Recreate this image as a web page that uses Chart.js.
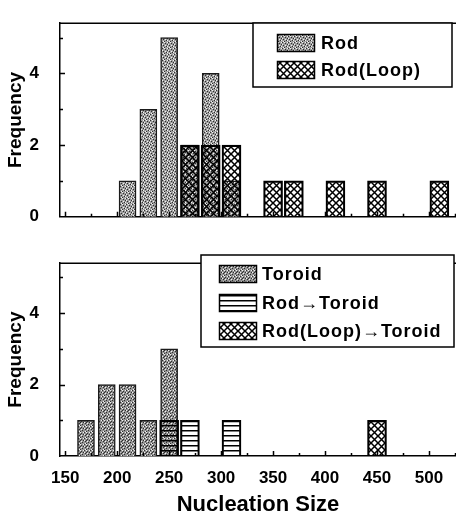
<!DOCTYPE html>
<html>
<head>
<meta charset="utf-8">
<script src="https://cdn.jsdelivr.net/npm/chart.js@4.4.0/dist/chart.umd.min.js"></script>
<style>
  html, body { margin: 0; padding: 0; background: #fff; }
  #wrap { position: relative; width: 456px; height: 514px; }
  canvas { position: absolute; left: 0; }
  #top { top: 0; }
  #bottom { top: 240px; }
</style>
</head>
<body>
<div id="wrap">
  <canvas id="top" width="456" height="240"></canvas>
  <canvas id="bottom" width="456" height="274"></canvas>
</div>
<script>
'use strict';

// bin centres (nucleation size) and counts
const rodBins = [210, 230, 250, 270, 290, 310];
const rodCounts = [1, 3, 5, 2, 4, 1];
const rodLoopBins = [270, 290, 310, 350, 370, 410, 450, 510];
const rodLoopCounts = [2, 2, 2, 1, 1, 1, 1, 1];

const toroidBins = [170, 190, 210, 230, 250];
const toroidCounts = [1, 2, 2, 1, 3];
const rodToroidBins = [250, 270, 310];
const rodToroidCounts = [1, 1, 1];
const loopToroidBins = [450];
const loopToroidCounts = [1];

const xTicks = [150, 200, 250, 300, 350, 400, 450, 500];
const yTicks = [0, 2, 4];

const FONT = '"Liberation Sans", Arial, sans-serif';

function makePattern(w, h, draw) {
    const c = document.createElement('canvas');
    c.width = w;
    c.height = h;
    const g = c.getContext('2d');
    draw(g);
    return g.createPattern(c, 'repeat');
}

// grey dithered fill
function dither(base, dark, light) {
    return makePattern(6, 6, g => {
        g.fillStyle = base;
        g.fillRect(0, 0, 6, 6);
        g.fillStyle = '#2e2e2e';
        dark.forEach(p => g.fillRect(p[0], p[1], 1, 1));
        g.fillStyle = '#f2f2f2';
        light.forEach(p => g.fillRect(p[0], p[1], 1, 1));
    });
}
const stipple = dither('#9e9e9e',
    [[0, 0], [3, 1], [5, 2], [1, 3], [4, 4], [2, 5]],
    [[2, 0], [5, 0], [0, 2], [3, 3], [1, 5], [5, 4]]);
const stippleDark = dither('#949494',
    [[0, 0], [3, 1], [5, 2], [1, 3], [4, 4], [2, 5], [2, 2]],
    [[2, 0], [5, 0], [0, 2], [3, 3], [1, 5]]);
// diagonal cross-hatch, see-through
const hatch = makePattern(7, 7, g => {
    g.strokeStyle = '#000';
    g.lineWidth = 1.5;
    g.beginPath();
    g.moveTo(-1, -1); g.lineTo(8, 8);
    g.moveTo(8, -1); g.lineTo(-1, 8);
    g.stroke();
});
// horizontal lines, see-through
const lines = makePattern(4, 5, g => {
    g.fillStyle = '#000';
    g.fillRect(0, 0, 4, 1.5);
});

function pts(xs, ys) {
    return xs.map((x, i) => ({ x: x, y: ys[i] }));
}

// border on top plus inward tick marks
const framePlugin = {
    id: 'frame',
    afterDatasetsDraw(chart) {
        const { ctx, chartArea: a, scales: { x, y } } = chart;
        ctx.save();
        ctx.strokeStyle = '#000';
        ctx.lineWidth = 1.5;
        ctx.beginPath();
        ctx.moveTo(a.left, a.top);
        ctx.lineTo(a.right, a.top);
        for (let v = 150; v <= x.max; v += 25) {
            const px = Math.round(x.getPixelForValue(v)) + 0.5;
            ctx.moveTo(px, a.bottom);
            ctx.lineTo(px, a.bottom - (v % 50 === 0 ? 5 : 3));
        }
        for (let v = 1; v <= 5; v++) {
            const py = Math.round(y.getPixelForValue(v)) + 0.5;
            ctx.moveTo(a.left, py);
            ctx.lineTo(a.left + (v % 2 === 0 ? 5 : 3), py);
        }
        ctx.stroke();
        ctx.restore();
    }
};

// boxed legend inside the plot
const boxLegend = {
    id: 'boxLegend',
    afterDraw(chart, args, opts) {
        const ctx = chart.ctx;
        const [l, t, r, b] = opts.box;
        ctx.save();
        ctx.fillStyle = '#fff';
        ctx.fillRect(l, t, r - l, b - t);
        ctx.strokeStyle = '#000';
        ctx.lineWidth = 1.5;
        ctx.strokeRect(l, t, r - l, b - t);
        ctx.font = 'bold 18px ' + FONT;
        ctx.letterSpacing = '1px';
        ctx.textBaseline = 'middle';
        chart.data.datasets.forEach((ds, i) => {
            const cy = opts.rows[i];
            const sx = opts.swatchX, sw = 38, sh = 18;
            ctx.fillStyle = '#fff';
            ctx.fillRect(sx, cy - sh / 2, sw, sh);
            ctx.fillStyle = ds.backgroundColor;
            ctx.fillRect(sx, cy - sh / 2, sw, sh);
            ctx.lineWidth = 1.5;
            ctx.strokeStyle = '#000';
            ctx.strokeRect(sx + 0.5, cy - sh / 2 + 0.5, sw - 1, sh - 1);
            ctx.fillStyle = '#000';
            ctx.fillText(ds.label, opts.textX, cy + 1);
        });
        ctx.restore();
    }
};

function options(bottom, legendOpts) {
    return {
        responsive: false,
        animation: false,
        layout: { padding: { top: bottom ? 9 : 13, left: 0, right: 0, bottom: 0 } },
        datasets: { bar: { grouped: false } },
        plugins: {
            legend: { display: false },
            tooltip: { enabled: false },
            boxLegend: legendOpts
        },
        scales: {
            x: {
                type: 'linear',
                min: 145,
                max: 526,
                offset: false,
                grid: { display: false },
                border: { color: '#000', width: 1.5 },
                afterBuildTicks: s => { s.ticks = xTicks.map(v => ({ value: v })); },
                afterFit: s => { s.height = bottom ? 58 : 20; },
                ticks: {
                    display: bottom,
                    padding: 4,
                    color: '#000',
                    maxRotation: 0,
                    font: { family: FONT, size: 17, weight: 'bold' }
                },
                title: {
                    display: bottom,
                    text: 'Nucleation Size',
                    color: '#000',
                    padding: { top: 0, bottom: 0 },
                    font: { family: FONT, size: 22, weight: 'bold', lineHeight: 0.8 }
                }
            },
            y: {
                min: 0,
                max: 5.4,
                grid: { display: false },
                border: { color: '#000', width: 1.5 },
                afterBuildTicks: s => { s.ticks = yTicks.map(v => ({ value: v })); },
                afterFit: s => { s.width = 60; },
                ticks: {
                    padding: 13,
                    color: '#000',
                    font: { family: FONT, size: 17, weight: 'bold' }
                },
                title: {
                    display: true,
                    text: 'Frequency',
                    color: '#000',
                    padding: { top: 4, bottom: 0 },
                    font: { family: FONT, size: 19, weight: 'bold' }
                }
            }
        }
    };
}

new Chart(document.getElementById('top'), {
    type: 'bar',
    data: {
        datasets: [
            { label: 'Rod', data: pts(rodBins, rodCounts), backgroundColor: stipple,
              borderColor: '#1a1a1a', borderWidth: 1.5, barThickness: 17, order: 1 },
            { label: 'Rod(Loop)', data: pts(rodLoopBins, rodLoopCounts), backgroundColor: hatch,
              borderColor: '#000', borderWidth: 1.5, barThickness: 19, order: 0 }
        ]
    },
    options: options(false, { box: [253, 23, 452, 87], rows: [43, 70], swatchX: 277, textX: 321 }),
    plugins: [framePlugin, boxLegend]
});

new Chart(document.getElementById('bottom'), {
    type: 'bar',
    data: {
        datasets: [
            { label: 'Toroid', data: pts(toroidBins, toroidCounts), backgroundColor: stippleDark,
              borderColor: '#1a1a1a', borderWidth: 1.5, barThickness: 17, order: 2 },
            { label: 'Rod→Toroid', data: pts(rodToroidBins, rodToroidCounts), backgroundColor: lines,
              borderColor: '#000', borderWidth: 1.5, barThickness: 19, order: 1 },
            { label: 'Rod(Loop)→Toroid', data: pts(loopToroidBins, loopToroidCounts), backgroundColor: hatch,
              borderColor: '#000', borderWidth: 1.5, barThickness: 19, order: 0 }
        ]
    },
    options: options(true, { box: [201, 15, 454, 107], rows: [34, 63, 91], swatchX: 219, textX: 262 }),
    plugins: [framePlugin, boxLegend]
});
</script>
</body>
</html>
